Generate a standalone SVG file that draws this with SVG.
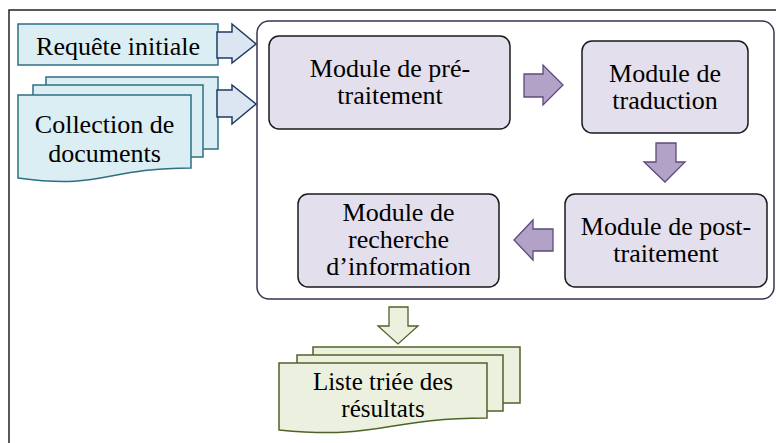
<svg xmlns="http://www.w3.org/2000/svg" width="776" height="443" viewBox="0 0 776 443">
<style>
.t{font-family:'Liberation Serif','DejaVu Serif','Noto Serif',serif;font-size:26px;fill:#000;text-anchor:middle}
.s{font-size:25px}
.blue{fill:#daeef3;stroke:#2f6f82;stroke-width:1.5}
.barrow{fill:#dce6f2;stroke:#1f3b63;stroke-width:1.5}
.node{fill:#e4dfec;stroke:#1a1a1a;stroke-width:1.5}
.parrow{fill:#b3a2c7;stroke:#5f497a;stroke-width:1.3}
.green{fill:#ebf1de;stroke:#4f6228;stroke-width:1.5}
.garrow{fill:#ebf1de;stroke:#4f6228;stroke-width:1.3}
</style>
<rect width="776" height="443" fill="#fff"/>
<path d="M9,443 V10 H776" fill="none" stroke="#222" stroke-width="1.5"/>
<rect id="container" x="257" y="21" width="517" height="278" rx="12" fill="none" stroke="#3f3151" stroke-width="1.5"/>
<g id="requete">
<rect class="blue" x="18" y="24" width="200" height="41"/>
<text class="t" font-family="Liberation Serif" x="118" y="55">Requête initiale</text>
</g>
<g id="collection">
<rect class="blue" x="46" y="77" width="172" height="72"/>
<rect class="blue" x="33" y="85" width="170" height="72"/>
<path class="blue" d="M18,95 H191 V168 C104,168 104,190 18,178 Z"/>
<text class="t" font-family="Liberation Serif" x="104.5" y="133">Collection de</text>
<text class="t" font-family="Liberation Serif" x="104.5" y="162">documents</text>
</g>
<g id="pretraitement">
<rect class="node" x="269" y="36" width="241" height="93" rx="10"/>
<text class="t" font-family="Liberation Serif" x="390" y="77">Module de pré-</text>
<text class="t" font-family="Liberation Serif" x="390" y="104">traitement</text>
</g>
<g id="traduction">
<rect class="node" x="582" y="41" width="166" height="92" rx="10"/>
<text class="t" font-family="Liberation Serif" x="665" y="82">Module de</text>
<text class="t" font-family="Liberation Serif" x="665" y="109">traduction</text>
</g>
<g id="posttraitement">
<rect class="node" x="565" y="194" width="202" height="93" rx="10"/>
<text class="t" font-family="Liberation Serif" x="666" y="235">Module de post-</text>
<text class="t" font-family="Liberation Serif" x="666" y="262">traitement</text>
</g>
<g id="recherche">
<rect class="node" x="298" y="194" width="201" height="93" rx="10"/>
<text class="t" font-family="Liberation Serif" x="398.5" y="221">Module de</text>
<text class="t" font-family="Liberation Serif" x="398.5" y="248">recherche</text>
<text class="t" font-family="Liberation Serif" x="398.5" y="275">d’information</text>
</g>
<g id="resultats">
<rect class="green" x="313" y="347" width="207" height="56"/>
<rect class="green" x="297" y="355" width="206" height="56"/>
<path class="green" d="M279,363 H487 V418 C383,418 383,440 279,430 Z"/>
<text class="t s" font-family="Liberation Serif" x="383" y="390">Liste triée des</text>
<text class="t s" font-family="Liberation Serif" x="383" y="417">résultats</text>
</g>
<g id="connectors">
<path class="barrow" d="M217,32 H232 V24 L256,44 L232,63 V58 H217 Z"/>
<path class="barrow" d="M217,90 H232 V85 L256,104 L232,124 V117 H217 Z"/>
<path class="parrow" d="M524,74 H543 V65 L563,85 L543,105 V97 H524 Z"/>
<path class="parrow" d="M656,143 H676 V162 H685 L665,182 L644,162 H656 Z"/>
<path class="parrow" d="M553,229 H533 V220 L514,240 L533,260 V251 H553 Z"/>
<path class="garrow" d="M389,307 H408 V326 H418 L398,344 L378,326 H389 Z"/>
</g>
</svg>
